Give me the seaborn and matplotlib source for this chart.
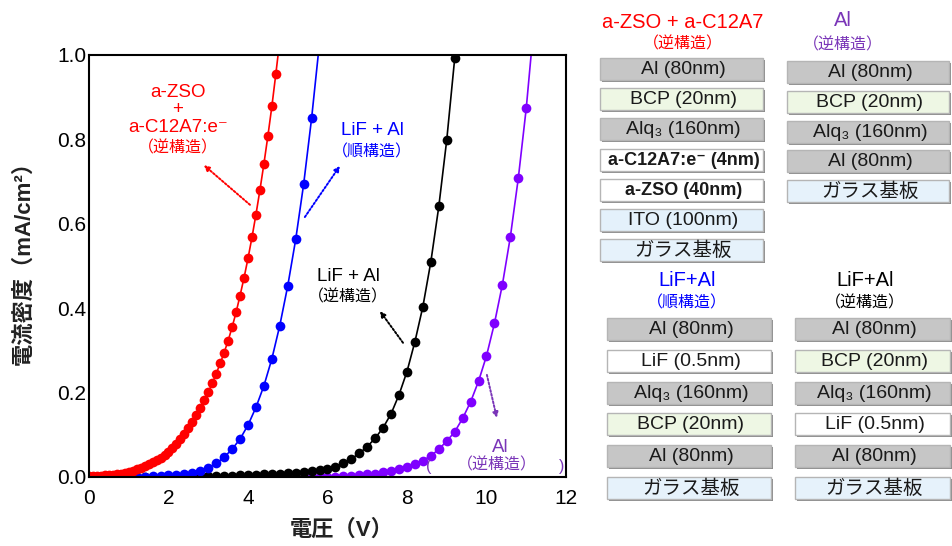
import numpy as np
import pandas as pd
import matplotlib
matplotlib.use("Agg")
import matplotlib.pyplot as plt
import seaborn as sns
from matplotlib.patches import Rectangle
from matplotlib.ticker import MultipleLocator

# J-V data (voltage in V, current density in mA/cm2)
v_zso = [0.0, 0.1, 0.2, 0.3, 0.4, 0.5, 0.6, 0.7, 0.8, 0.9, 1.0, 1.1, 1.2, 1.3, 1.4, 1.5,
         1.6, 1.7, 1.8, 1.9, 2.0, 2.1, 2.2, 2.3, 2.4, 2.5, 2.6, 2.7, 2.8, 2.9, 3.0, 3.1,
         3.2, 3.3, 3.4, 3.5, 3.6, 3.7, 3.8, 3.9, 4.0, 4.1, 4.2, 4.3, 4.4, 4.5, 4.6, 4.7, 4.8]
j_zso = [0.002, 0.002, 0.003, 0.003, 0.004, 0.004, 0.005, 0.006, 0.008, 0.010, 0.012,
         0.015, 0.018, 0.022, 0.026, 0.030, 0.035, 0.040, 0.046, 0.052, 0.060, 0.069,
         0.079, 0.090, 0.102, 0.116, 0.131, 0.147, 0.164, 0.182, 0.201, 0.222, 0.245,
         0.269, 0.295, 0.323, 0.355, 0.390, 0.430, 0.472, 0.518, 0.568, 0.622, 0.680,
         0.742, 0.808, 0.878, 0.955, 1.035]

v_lif_fwd = [0.0, 0.2, 0.4, 0.6, 0.8, 1.0, 1.2, 1.4, 1.6, 1.8, 2.0, 2.2, 2.4, 2.6, 2.8,
             3.0, 3.2, 3.4, 3.6, 3.8, 4.0, 4.2, 4.4, 4.6, 4.8, 5.0, 5.2, 5.4, 5.6, 5.8]
j_lif_fwd = [0.000, 0.000, 0.000, 0.000, 0.000, 0.000, 0.001, 0.001, 0.002, 0.003,
             0.004, 0.005, 0.007, 0.010, 0.015, 0.022, 0.032, 0.047, 0.066, 0.090,
             0.123, 0.165, 0.216, 0.280, 0.359, 0.453, 0.563, 0.694, 0.850, 1.030]

v_lif_inv = [0.0, 0.2, 0.4, 0.6, 0.8, 1.0, 1.2, 1.4, 1.6, 1.8, 2.0, 2.2, 2.4, 2.6, 2.8,
             3.0, 3.2, 3.4, 3.6, 3.8, 4.0, 4.2, 4.4, 4.6, 4.8, 5.0, 5.2, 5.4, 5.6, 5.8,
             6.0, 6.2, 6.4, 6.6, 6.8, 7.0, 7.2, 7.4, 7.6, 7.8, 8.0, 8.2, 8.4, 8.6, 8.8,
             9.0, 9.2]
j_lif_inv = [0.000, 0.000, 0.000, 0.000, 0.000, 0.000, 0.000, 0.000, 0.000, 0.000,
             0.000, 0.001, 0.001, 0.001, 0.002, 0.002, 0.002, 0.003, 0.003, 0.004,
             0.004, 0.005, 0.006, 0.007, 0.008, 0.009, 0.010, 0.012, 0.014, 0.016,
             0.019, 0.024, 0.032, 0.043, 0.056, 0.072, 0.092, 0.117, 0.150, 0.195,
             0.250, 0.321, 0.404, 0.510, 0.641, 0.799, 0.992]

v_al = [5.6, 5.8, 6.0, 6.2, 6.4, 6.6, 6.8, 7.0, 7.2, 7.4, 7.6, 7.8, 8.0, 8.2, 8.4, 8.6,
        8.8, 9.0, 9.2, 9.4, 9.6, 9.8, 10.0, 10.2, 10.4, 10.6, 10.8, 11.0, 11.2]
j_al = [0.000, 0.000, 0.001, 0.001, 0.002, 0.003, 0.004, 0.006, 0.008, 0.011, 0.014,
        0.018, 0.024, 0.030, 0.039, 0.050, 0.066, 0.085, 0.107, 0.139, 0.178, 0.227,
        0.287, 0.364, 0.456, 0.569, 0.708, 0.874, 1.080]

# layer stacks (top to bottom)
stack_zso = ["Al (80nm)", "BCP (20nm)", "Alq₃ (160nm)", "a-C12A7:e⁻ (4nm)",
             "a-ZSO (40nm)", "ITO (100nm)", "ガラス基板"]
stack_al = ["Al (80nm)", "BCP (20nm)", "Alq₃ (160nm)", "Al (80nm)", "ガラス基板"]
stack_lif_fwd = ["Al (80nm)", "LiF (0.5nm)", "Alq₃ (160nm)", "BCP (20nm)",
                 "Al (80nm)", "ガラス基板"]
stack_lif_inv = ["Al (80nm)", "BCP (20nm)", "Alq₃ (160nm)", "LiF (0.5nm)",
                 "Al (80nm)", "ガラス基板"]

RED = "#ff0000"
BLUE = "#0000ff"
BLACK = "#000000"
PURPLE = "#7f00ff"
PURPLE_TXT = "#7a35b8"

sns.set_style("white")
plt.rcParams["font.family"] = ["Liberation Sans", "Noto Sans CJK JP", "DejaVu Sans"]

fig = plt.figure(figsize=(9.53, 5.46), dpi=100)
ax = fig.add_axes([89 / 953, 69 / 546, 477 / 953, 422 / 546])

series = [(v_al, j_al, PURPLE), (v_lif_inv, j_lif_inv, BLACK),
          (v_lif_fwd, j_lif_fwd, BLUE), (v_zso, j_zso, RED)]
for v, j, c in series:
    sns.lineplot(x=v, y=j, ax=ax, color=c, marker="o", markersize=7,
                 markeredgewidth=0, linewidth=1.2, estimator=None, sort=False)

ax.set_xlim(0, 12)
ax.set_ylim(0, 1.0)
ax.xaxis.set_major_locator(MultipleLocator(2))
ax.xaxis.set_minor_locator(MultipleLocator(1))
ax.yaxis.set_major_locator(MultipleLocator(0.2))
ax.yaxis.set_minor_locator(MultipleLocator(0.1))
ax.yaxis.set_major_formatter(matplotlib.ticker.FormatStrFormatter("%.1f"))
ax.tick_params(which="both", direction="in", top=False, right=False, colors="black",
               labelsize=15, width=1.3)
ax.tick_params(which="major", length=6)
ax.tick_params(which="minor", length=3.5)
ax.tick_params(axis="x", pad=9)
ax.tick_params(axis="y", pad=2)
for s in ax.spines.values():
    s.set_color("black")
    s.set_linewidth(1.5)

ax.set_xlabel("電圧（V）", fontsize=16, fontweight="bold", color="#222222")
ax.set_ylabel("電流密度（mA/cm²）", fontsize=16, fontweight="bold", color="#222222")
ax.xaxis.set_label_coords(0.53, -0.1)
ax.yaxis.set_label_coords(-0.115, 0.52)

# curve labels
def label(x, y, s, c, size=13.5):
    ax.text(x, y, s, color=c, fontsize=size, ha="center", va="center")

label(2.24, 0.912, "a-ZSO", RED)
label(2.24, 0.870, "+", RED)
label(2.24, 0.828, "a-C12A7:e⁻", RED)
label(2.24, 0.780, "（逆構造）", RED, 11.5)
label(7.12, 0.822, "LiF + Al", BLUE)
label(7.12, 0.770, "（順構造）", BLUE, 11.5)
label(6.52, 0.474, "LiF + Al", BLACK)
label(6.52, 0.427, "（逆構造）", BLACK, 11.5)
label(10.34, 0.071, "Al", PURPLE_TXT)
label(10.26, 0.028, "（逆構造）", PURPLE_TXT, 11.5)
label(8.55, 0.026, "(", PURPLE_TXT, 11.5)
label(11.9, 0.026, ")", PURPLE_TXT, 11.5)

arrows = [((4.05, 0.645), (2.89, 0.739), RED), ((5.43, 0.616), (6.31, 0.737), BLUE),
          ((7.90, 0.318), (7.32, 0.393), BLACK), ((10.01, 0.242), (10.26, 0.140), PURPLE_TXT)]
for start, end, c in arrows:
    ax.annotate("", xy=end, xytext=start,
                arrowprops=dict(arrowstyle="-|>", linestyle=(0, (1, 1)), color=c,
                                lw=1.4, mutation_scale=8, shrinkA=0, shrinkB=0))

# layer stack diagrams, drawn on a full-figure overlay in pixel units
ov = fig.add_axes([0, 0, 1, 1])
ov.set_xlim(0, 953)
ov.set_ylim(546, 0)
ov.axis("off")

fills = {"Al": "#c6c6c6", "BCP": "#eef7e4", "Alq": "#d3eac2", "ITO": "#e4f1fb",
         "ガラ": "#e6f2fb"}


def layer_color(name):
    for k, c in fills.items():
        if name.startswith(k):
            return c
    return "#ffffff"


def draw_stack(layers, x0, x1, top, pitch, bold=()):
    for i, name in enumerate(layers):
        y = top + i * pitch
        ov.add_patch(Rectangle((x0 + 2, y + 2), x1 - x0, 22, facecolor="#8c8c8c",
                               edgecolor="none"))
        ov.add_patch(Rectangle((x0, y), x1 - x0, 22, facecolor=layer_color(name),
                               edgecolor="#b5b5b5", linewidth=1.0))
        is_bold = name in bold
        ov.text((x0 + x1) / 2 + 2, y + 11.5, name, fontsize=13 if is_bold else 14,
                ha="center", va="center", color="#1a1a1a",
                fontweight="bold" if is_bold else "normal")


def title(x, y, s, c, size=14.5):
    ov.text(x, y, s, color=c, fontsize=size, ha="center", va="center")


title(683, 22, "a-ZSO + a-C12A7", RED)
title(683, 44, "（逆構造）", RED, 11.5)
draw_stack(stack_zso, 600, 763, 58, 30.2, bold=("a-C12A7:e⁻ (4nm)", "a-ZSO (40nm)"))

title(843, 20, "Al", PURPLE_TXT)
title(843, 45, "（逆構造）", PURPLE_TXT, 11.5)
draw_stack(stack_al, 787, 949, 61, 29.8)

title(687, 280, "LiF+Al", BLUE)
title(687, 303, "（順構造）", BLUE, 11.5)
draw_stack(stack_lif_fwd, 607, 771, 318, 31.8)

title(865, 280, "LiF+Al", BLACK)
title(865, 303, "（逆構造）", BLACK, 11.5)
draw_stack(stack_lif_inv, 795, 950, 318, 31.8)

fig.savefig("out.png", dpi=100)
